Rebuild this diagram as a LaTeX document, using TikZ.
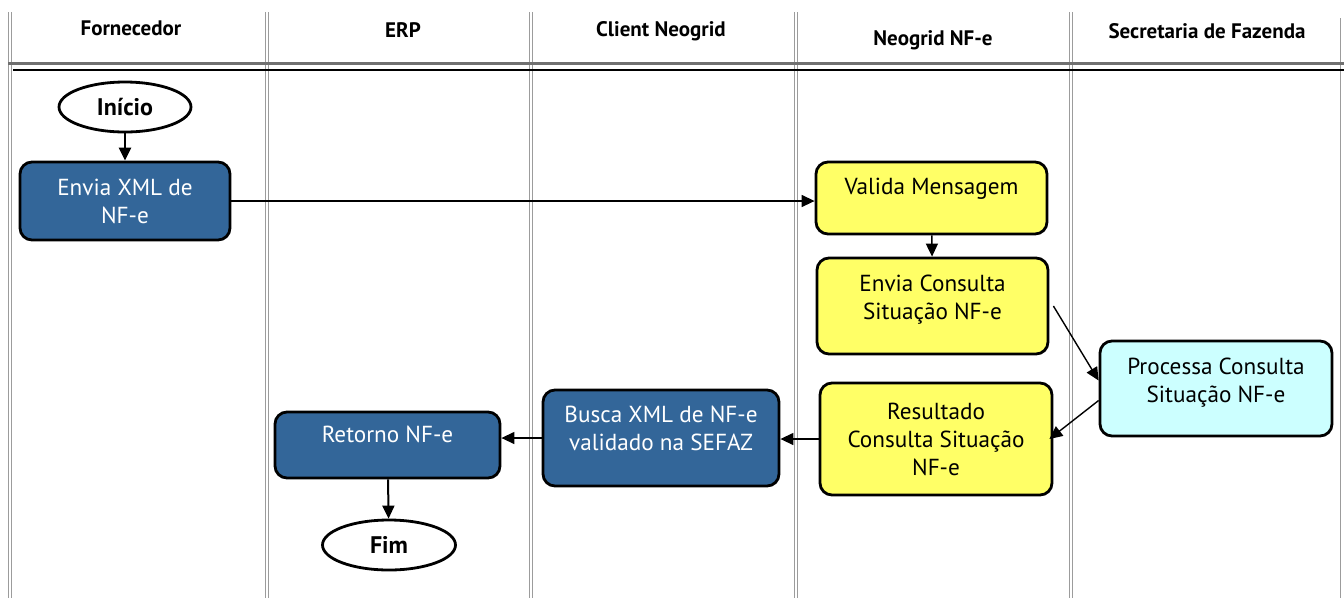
\documentclass[tikz,border=0pt]{standalone}
\usepackage{fontspec}
\setmainfont{PT Sans}
\usepackage{tikz}
\usetikzlibrary{arrows.meta,positioning,shapes}
\definecolor{boxblue}{HTML}{336699}
\definecolor{boxyellow}{HTML}{FFFF66}
\definecolor{boxcyan}{HTML}{CCFFFF}
\definecolor{lanegray}{HTML}{9C9C9C}
\definecolor{rulegray}{HTML}{707070}

\tikzset{
	task/.style={draw, line width=1.4pt, rounded corners=6pt, align=center, inner sep=2pt, font=\fontsize{11.6}{14}\selectfont},
	bluetask/.style={task, fill=boxblue, text=white},
	yellowtask/.style={task, fill=boxyellow},
	cyantask/.style={task, fill=boxcyan},
	textup/.style={text depth=#1},
	terminal/.style={draw, ellipse, line width=1.4pt, font=\fontsize{12}{14}\selectfont\bfseries},
	lane/.style={lanegray, line width=0.4pt, double=white, double distance=1pt},
	flow/.style={-{Triangle[length=6.5pt,width=6pt]}, line width=0.7pt},
	heading/.style={font=\fontsize{10.5}{12}\selectfont\bfseries},
}

\begin{document}
\begin{tikzpicture}[x=0.5pt,y=-0.5pt]
	\useasboundingbox (0,0) rectangle (1344,601);
	% swimlanes
	\foreach \x in {10,267,531,796,1071} \draw[lane] (\x,12) -- (\x,598);
	\draw[lanegray, line width=0.5pt] (1340,18) -- (1340,598);
	\draw[rulegray, line width=1.1pt] (8,63.5) -- (1344,63.5);
	\draw[line width=1.1pt] (13,70) -- (1344,70);
	\node[heading] (fornecedor) at (131,28) {Fornecedor};
	\node[heading] (erp) at (403,30) {ERP};
	\node[heading] (client) at (661,31) {Client Neogrid};
	\node[heading] (neogrid) at (933,40) {Neogrid NF-e};
	\node[heading] (sefaz) at (1207,31) {Secretaria de Fazenda};
	% steps
	\node[terminal, minimum width=66pt, minimum height=25pt] (inicio) at (125,107) {Início};
	\node[bluetask, minimum width=105pt, minimum height=39pt] (envia) at (125,201) {Envia XML de\\NF-e};
	\node[yellowtask, textup=11.5pt, minimum width=115.5pt, minimum height=36pt] (valida) at (931.5,198) {Valida Mensagem};
	\node[yellowtask, textup=8.5pt, minimum width=115.5pt, minimum height=48pt] (consulta) at (932.5,306) {Envia Consulta\\Situação NF-e};
	\node[cyantask, textup=8.5pt, minimum width=116pt, minimum height=47.5pt] (processa) at (1216,388.5) {Processa Consulta\\Situação NF-e};
	\node[yellowtask, minimum width=116pt, minimum height=56pt] (resultado) at (936,439) {Resultado\\Consulta Situação\\NF-e};
	\node[bluetask, textup=9.5pt, minimum width=118pt, minimum height=48pt] (busca) at (661,438) {Busca XML de NF-e\\validado na SEFAZ};
	\node[bluetask, textup=10.5pt, minimum width=112.5pt, minimum height=33pt] (retorno) at (387.5,445) {Retorno NF-e};
	\node[terminal, minimum width=66.5pt, minimum height=25pt] (fim) at (389,545) {Fim};
	% connectors
	\draw[flow, line width=1.4pt] (inicio) -- (envia);
	\draw[flow] (envia.east) -- (envia.east -| valida.west);
	\draw[flow] (valida) -- (consulta);
	\draw[flow] ([xshift=2pt]consulta.east) -- ([yshift=4pt]processa.west);
	\draw[flow] ([yshift=-6pt]processa.west) -- ([xshift=-2pt]resultado.east);
	\draw[flow] (resultado.west) -- (resultado.west -| busca.east);
	\draw[flow] (busca.west) -- (busca.west -| retorno.east);
	\draw[flow, line width=1pt] (retorno) -- (fim);
\end{tikzpicture}
\end{document}
